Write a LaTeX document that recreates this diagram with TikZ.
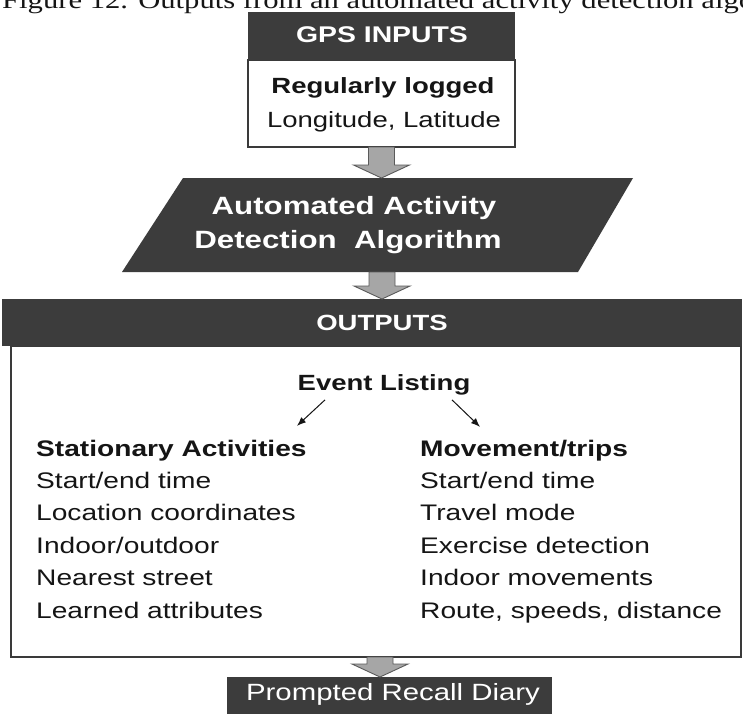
\documentclass[tikz,border=0pt]{standalone}
\usepackage{fontspec}
\setmainfont{Liberation Sans}[FakeStretch=1.25]
\newfontfamily\capfont{Liberation Serif}[FakeStretch=1.25]
\usetikzlibrary{calc,arrows.meta}
\definecolor{hdark}{HTML}{3C3C3C}
\definecolor{bord}{HTML}{3A3A3A}
\definecolor{arrfill}{HTML}{A6A6A6}
\definecolor{arrline}{HTML}{5A5A5A}
\definecolor{ink}{HTML}{151515}
\newcommand\blockarrow[2]{%
  \filldraw[blkarrow] let \p1=(#1), \p2=(#2) in
    (\x1-13pt,\y1) -- (\x1+13pt,\y1) -- (\x1+13pt,\y2+13pt) -- (\x1+28pt,\y2+13pt)
    -- (\x1,\y2) -- (\x1-28pt,\y2+13pt) -- (\x1-13pt,\y2+13pt) -- cycle;}
\begin{document}
\begin{tikzpicture}[x=1pt,y=-1pt,
  hdr/.style={fill=hdark, draw=none, inner sep=0pt, outer sep=0pt, anchor=north west},
  wbox/.style={fill=white, draw=bord, line width=1.6pt, inner sep=0pt, outer sep=0pt, anchor=north west},
  blkarrow/.style={fill=arrfill, draw=arrline, line width=0.9pt, line join=miter},
  txt/.style={inner sep=0pt, anchor=base, text=ink, font=\fontsize{22.5}{27}\selectfont},
  btxt/.style={txt, font=\fontsize{22.5}{27}\selectfont\bfseries},
  wtxt/.style={inner sep=0pt, anchor=base, text=white, font=\fontsize{22.5}{27}\selectfont\bfseries},
  ltxt/.style={txt, anchor=base west},
  thinarrow/.style={-{Latex[length=9pt,width=7pt]}, line width=1pt, ink}
]
\useasboundingbox (0,0) rectangle (743,717);
\clip (0,0) rectangle (743,717);
\fill[white] (0,0) rectangle (743,717);

% caption (cut off at the top)
\node[inner sep=0pt, anchor=base west, text=ink, font=\capfont\fontsize{24.5}{28}\selectfont] (cap) at (2,9)
  {Figure 12. Outputs from an automated activity detection algorithm};

% GPS inputs
\node[wbox, minimum width=267pt, minimum height=87pt] (gpsbox) at (248,60) {};
\node[hdr, minimum width=267pt, minimum height=48pt] (gpshead) at (248,12) {};
\node[wtxt, font=\fontsize{22.7}{27}\selectfont\bfseries] (gpst) at (382,43) {GPS INPUTS};
\node[btxt, font=\fontsize{22}{27}\selectfont\bfseries] (reg) at (383,93) {Regularly logged};
\node[txt, font=\fontsize{22}{27}\selectfont] (lonlat) at (384,127) {Longitude, Latitude};

% algorithm parallelogram
\fill[hdark] (183,178) -- (633,178) -- (578,272) -- (122,272) -- cycle;
\coordinate (algoN) at (382,178);
\coordinate (algoS) at (382,272);
\node[wtxt, font=\fontsize{25}{27}\selectfont\bfseries] (algo1) at (354,214) {Automated Activity};
\node[wtxt, font=\fontsize{25}{27}\selectfont\bfseries] (algo2) at (348,248) {Detection\ \ Algorithm};

% outputs
\node[wbox, minimum width=730pt, minimum height=311pt] (outbox) at (11,346) {};
\node[hdr, minimum width=740pt, minimum height=47pt] (outhead) at (2,299) {};
\node[wtxt, font=\fontsize{22}{27}\selectfont\bfseries] (outt) at (382,330) {OUTPUTS};
\node[btxt, font=\fontsize{22}{27}\selectfont\bfseries] (ev) at (384,390) {Event Listing};

\node[btxt, anchor=base west] (stat) at (36,456) {Stationary Activities};
\foreach \t [count=\i] in {Start/end time, Location coordinates, Indoor/outdoor, Nearest street, Learned attributes}
  \node[ltxt] (stat\i) at (36,{456+32.4*\i}) {\t};
\node[btxt, anchor=base west] (move) at (420,456) {Movement/trips};
\foreach \t [count=\i] in {Start/end time, Travel mode, Exercise detection, Indoor movements, {Route, speeds, distance}}
  \node[ltxt] (move\i) at (420,{456+32.4*\i}) {\t};

\draw[thinarrow] ([shift={(-59,5)}]ev.south) -- ([shift={(-87,31)}]ev.south);
\draw[thinarrow] ([shift={(68,5)}]ev.south) -- ([shift={(96,32)}]ev.south);

% diary
\node[hdr, minimum width=325pt, minimum height=37pt] (diary) at (227,677) {};
\node[inner sep=0pt, anchor=base, text=white, font=\fontsize{23.5}{27}\selectfont] (diaryt) at (393,700) {Prompted Recall Diary};

% block arrows
\blockarrow{gpsbox.south}{algoN}
\blockarrow{algoS}{outhead.north}
\blockarrow{[xshift=4pt]outbox.south}{diary.north}
\end{tikzpicture}
\end{document}
